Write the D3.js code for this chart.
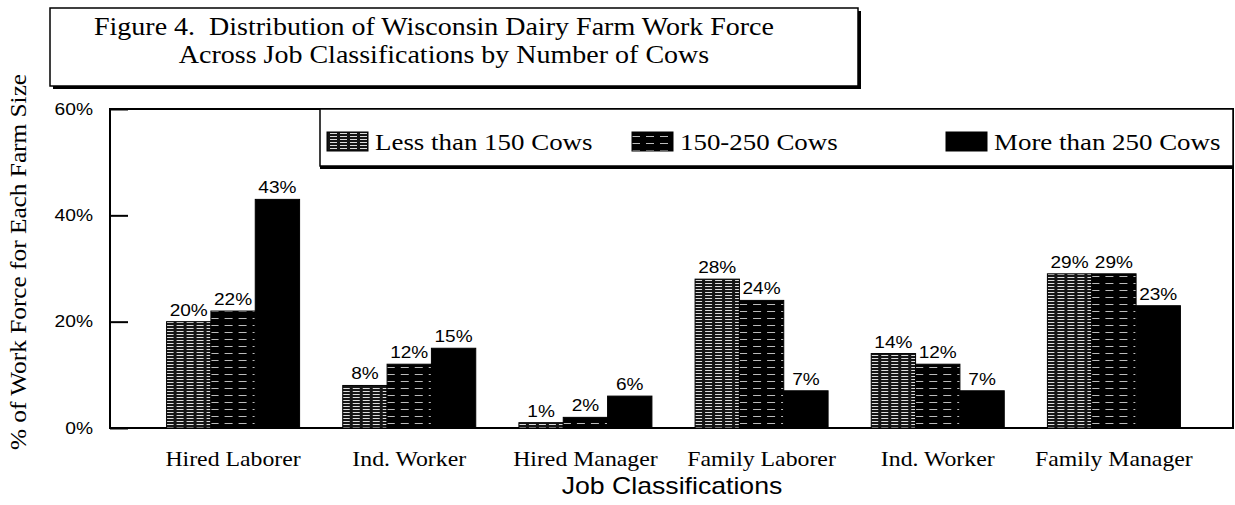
<!DOCTYPE html>
<html>
<head>
<meta charset="utf-8">
<title>Figure 4</title>
<script src="https://cdn.jsdelivr.net/npm/d3@7"></script>
<style>
  body { margin: 0; background: #fff; }
  svg { display: block; }
</style>
</head>
<body>
<div id="chart"></div>
<script>
var categories = ['Hired Laborer', 'Ind. Worker', 'Hired Manager', 'Family Laborer', 'Ind. Worker', 'Family Manager'];
var seriesNames = ['Less than 150 Cows', '150-250 Cows', 'More than 250 Cows'];
var less150 = [20, 8, 1, 28, 14, 29];
var mid150to250 = [22, 12, 2, 24, 12, 29];
var more250 = [43, 15, 6, 7, 7, 23];
var yTicks = [0, 20, 40, 60];
var titleLines = ['Figure 4.  Distribution of Wisconsin Dairy Farm Work Force', 'Across Job Classifications by Number of Cows'];

var width = 1235, height = 505;
var plotLeft = 110, plotRight = 1233, plotTop = 109, plotBottom = 428;
var serif = '"Liberation Serif", "Times New Roman", serif';
var sans = '"Liberation Sans", Arial, sans-serif';

var svg = d3.select('#chart').append('svg')
    .attr('width', width)
    .attr('height', height);

// the scanned original is a little wider than the fonts, so stretch the text
function stretch(sel, k) {
    sel.each(function () {
        var w = this.getComputedTextLength();
        d3.select(this).attr('textLength', w * k).attr('lengthAdjust', 'spacingAndGlyphs');
    });
}

var defs = svg.append('defs');
// hatch fills for the two lighter series
var p1 = defs.append('pattern').attr('id', 'hatch1')
    .attr('patternUnits', 'userSpaceOnUse').attr('width', 10).attr('height', 3);
p1.append('rect').attr('width', 10).attr('height', 3).attr('fill', '#151515');
p1.append('rect').attr('x', 0).attr('y', 1).attr('width', 7).attr('height', 1).attr('fill', '#ddd');
var p2 = defs.append('pattern').attr('id', 'hatch2')
    .attr('patternUnits', 'userSpaceOnUse').attr('width', 14).attr('height', 7);
p2.append('rect').attr('width', 14).attr('height', 7).attr('fill', '#000');
p2.append('rect').attr('x', 2).attr('y', 3).attr('width', 8).attr('height', 1).attr('fill', '#bbb');

var fills = ['url(#hatch1)', 'url(#hatch2)', '#000'];
var series = [less150, mid150to250, more250];

var x0 = d3.scaleBand()
    .domain(d3.range(categories.length))
    .range([145, 1202])
    .paddingInner(0.245)
    .paddingOuter(0.1225);
var x1 = d3.scaleBand()
    .domain(d3.range(series.length))
    .range([0, x0.bandwidth()]);
var y = d3.scaleLinear().domain([0, 60]).range([plotBottom, plotTop]);

// title box with shadow
svg.append('rect').attr('x', 53).attr('y', 11).attr('width', 808).attr('height', 78).attr('fill', '#000');
svg.append('rect').attr('x', 50).attr('y', 8).attr('width', 808).attr('height', 78)
    .attr('fill', '#fff').attr('stroke', '#000').attr('stroke-width', 1.5);
var title = svg.selectAll('text.title')
    .data(titleLines)
    .enter()
    .append('text')
        .attr('class', 'title')
        .attr('x', (d, i) => i ? 444 : 434)
        .attr('y', (d, i) => 35 + i * 28)
        .attr('font-family', serif)
        .attr('font-size', 25)
        .attr('text-anchor', 'middle')
        .style('white-space', 'pre')
        .text(d => d);
stretch(title, 1.12);

// plot frame
svg.append('rect').attr('x', plotLeft).attr('y', plotTop)
    .attr('width', plotRight - plotLeft).attr('height', plotBottom - plotTop)
    .attr('fill', 'none').attr('stroke', '#000').attr('stroke-width', 2);

// y axis
var yAxis = svg.append('g')
    .attr('transform', 'translate(' + plotLeft + ',0)')
    .call(d3.axisLeft(y).tickValues(yTicks).tickSize(-18).tickPadding(17).tickFormat(d => d + '%'));
yAxis.select('.domain').remove();
yAxis.selectAll('line').attr('stroke', '#000').attr('stroke-width', 2);
yAxis.selectAll('text')
    .attr('font-family', sans)
    .attr('font-size', 16)
    .attr('fill', '#000');
stretch(yAxis.selectAll('text'), 1.2);

// bars
var groups = svg.selectAll('g.cat')
    .data(categories)
    .enter()
    .append('g')
        .attr('class', 'cat')
        .attr('transform', (d, i) => 'translate(' + x0(i) + ',0)');

series.forEach(function (vals, s) {
    groups.append('rect')
        .attr('x', x1(s))
        .attr('y', (d, i) => y(vals[i]))
        .attr('width', x1.bandwidth())
        .attr('height', (d, i) => y(0) - y(vals[i]))
        .attr('fill', fills[s])
        .attr('stroke', '#000')
        .attr('stroke-width', 1);
    var lbl = groups.append('text')
        .attr('x', x1(s) + x1.bandwidth() / 2)
        .attr('y', (d, i) => y(vals[i]) - 6)
        .attr('text-anchor', 'middle')
        .attr('font-family', sans)
        .attr('font-size', 17)
        .text((d, i) => vals[i] + '%');
    stretch(lbl, 1.12);
});

// category labels
var catLabels = svg.selectAll('text.cat-label')
    .data(categories)
    .enter()
    .append('text')
        .attr('class', 'cat-label')
        .attr('x', (d, i) => x0(i) + x0.bandwidth() / 2)
        .attr('y', 466)
        .attr('text-anchor', 'middle')
        .attr('font-family', serif)
        .attr('font-size', 22)
        .text(d => d);
stretch(catLabels, 1.08);

var xTitle = svg.append('text')
    .attr('x', 672).attr('y', 494)
    .attr('text-anchor', 'middle')
    .attr('font-family', sans)
    .attr('font-size', 24)
    .text('Job Classifications');
stretch(xTitle, 1.11);

var yTitle = svg.append('text')
    .attr('transform', 'translate(26,262) rotate(-90)')
    .attr('text-anchor', 'middle')
    .attr('font-family', serif)
    .attr('font-size', 23)
    .text('% of Work Force for Each Farm Size');
stretch(yTitle, 1.1);

// legend box with shadow along the bottom
var lg = svg.append('g');
lg.append('rect').attr('x', 320).attr('y', 165).attr('width', plotRight - 320).attr('height', 4).attr('fill', '#000');
lg.append('rect').attr('x', 320).attr('y', plotTop).attr('width', plotRight - 320).attr('height', 57)
    .attr('fill', '#fff').attr('stroke', '#000').attr('stroke-width', 1.5);
var legendX = [327, 632, 946];
seriesNames.forEach(function (name, s) {
    lg.append('rect')
        .attr('x', legendX[s]).attr('y', 132)
        .attr('width', 41).attr('height', 19)
        .attr('fill', fills[s]).attr('stroke', '#000');
    var t = lg.append('text')
        .attr('x', legendX[s] + 48).attr('y', 150)
        .attr('font-family', serif)
        .attr('font-size', 23)
        .text(name);
    stretch(t, 1.17);
});
</script>
</body>
</html>
